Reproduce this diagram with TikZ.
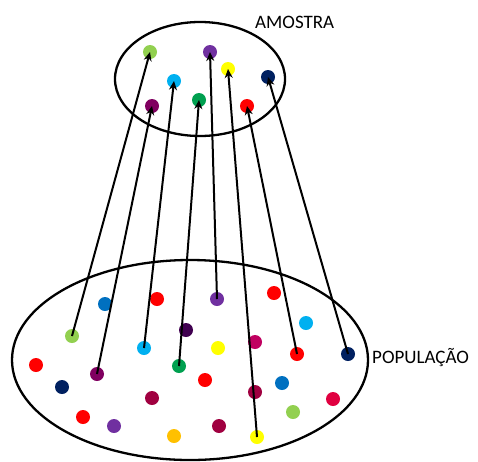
\documentclass[tikz,border=0pt]{standalone}
\usepackage{fontspec}
\setmainfont{Carlito}
\usetikzlibrary{arrows.meta,shapes.geometric}
\definecolor{cLgreen}{HTML}{92D050}
\definecolor{cPurple}{HTML}{7030A0}
\definecolor{cYellow}{HTML}{FFFF00}
\definecolor{cNavy}{HTML}{002060}
\definecolor{cLblue}{HTML}{00B0F0}
\definecolor{cGreen}{HTML}{00A050}
\definecolor{cPlum}{HTML}{800060}
\definecolor{cRed}{HTML}{FF0000}
\definecolor{cBlue}{HTML}{0070C0}
\definecolor{cDpurple}{HTML}{400050}
\definecolor{cCrimson}{HTML}{C00060}
\definecolor{cMaroon}{HTML}{A00040}
\definecolor{cGold}{HTML}{FFC000}
\definecolor{cRose}{HTML}{E00040}
\begin{document}
\begin{tikzpicture}[x=1pt,y=-1pt,
  dot/.style={circle,inner sep=0pt,minimum size=14pt,fill=#1},
  link/.style={line width=2pt,-{Stealth[length=9pt,width=8pt]}},
  setshape/.style={ellipse,draw,line width=2.3pt,inner sep=0pt},
  lbl/.style={inner sep=0pt,font=\fontsize{19}{22}\selectfont}]
\useasboundingbox (0,0) rectangle (478,461);
% sets
\node[setshape,minimum width=170pt,minimum height=114pt] (amostra) at (200,79) {};
\node[setshape,minimum width=356pt,minimum height=200pt] (pop) at (190,360) {};
\node[lbl,anchor=base west] (lamostra) at (255,28) {AMOSTRA};
\node[lbl,anchor=base west] (lpop) at (372,363) {POPULAÇÃO};
% sample dots
\node[dot=cLgreen] (t1) at (150,52) {};
\node[dot=cPurple] (t5) at (210,52) {};
\node[dot=cYellow] (t6) at (228,69) {};
\node[dot=cNavy] (t8) at (268,77) {};
\node[dot=cLblue] (t3) at (174,81) {};
\node[dot=cGreen] (t4) at (199,100) {};
\node[dot=cPlum] (t2) at (152,106) {};
\node[dot=cRed] (t7) at (247,106) {};
% population dots
\node[dot=cBlue] (p1) at (105,304) {};
\node[dot=cRed] (p2) at (157,299) {};
\node[dot=cPurple] (b5) at (217,299) {};
\node[dot=cLgreen] (b1) at (72,336) {};
\node[dot=cDpurple] (p3) at (186,330) {};
\node[dot=cLblue] (b3) at (144,348) {};
\node[dot=cYellow] (p4) at (218,348) {};
\node[dot=cRed] (p5) at (36,365) {};
\node[dot=cPlum] (b2) at (97,374) {};
\node[dot=cGreen] (b4) at (179,366) {};
\node[dot=cRed] (p6) at (205,380) {};
\node[dot=cNavy] (p7) at (62,387) {};
\node[dot=cMaroon] (p8) at (152,398) {};
\node[dot=cRed] (p9) at (83,417) {};
\node[dot=cPurple] (p10) at (114,426) {};
\node[dot=cGold] (p11) at (174,436) {};
\node[dot=cMaroon] (p12) at (219,426) {};
\node[dot=cRed] (p13) at (274,293) {};
\node[dot=cLblue] (p14) at (306,323) {};
\node[dot=cCrimson] (p15) at (255,342) {};
\node[dot=cRed] (b7) at (297,354) {};
\node[dot=cNavy] (b8) at (348,354) {};
\node[dot=cBlue] (p16) at (282,383) {};
\node[dot=cMaroon] (p17) at (255,392) {};
\node[dot=cRose] (p18) at (333,399) {};
\node[dot=cLgreen] (p19) at (293,412) {};
\node[dot=cYellow] (b6) at (257,437) {};
% arrows
\draw[link] (b1.center) -- (t1.center);
\draw[link] (b2.center) -- (t2.center);
\draw[link] (b3.center) -- (t3.center);
\draw[link] (b4.center) -- (t4.center);
\draw[link] (b5.center) -- (t5.center);
\draw[link] (b6.center) -- (t6.center);
\draw[link] (b7.center) -- (t7.center);
\draw[link] (b8.center) -- (t8.center);
\end{tikzpicture}
\end{document}
